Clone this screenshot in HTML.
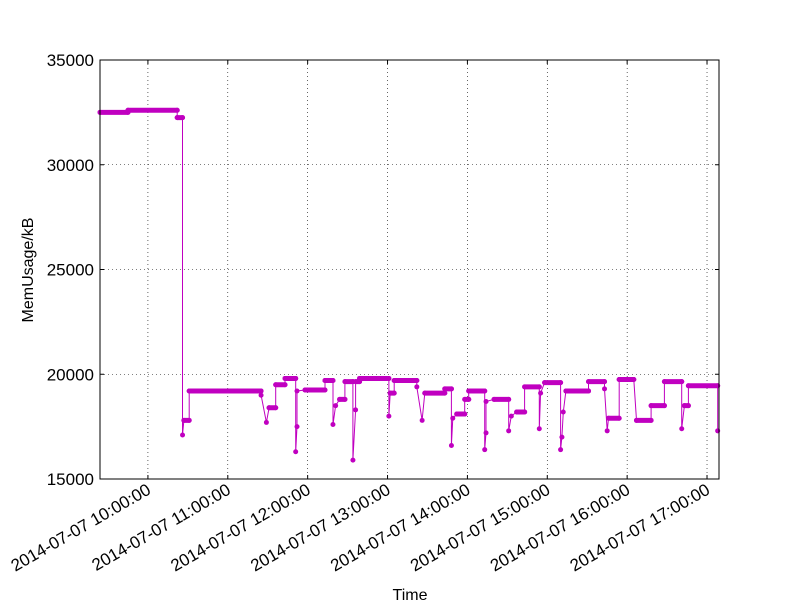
<!DOCTYPE html>
<html><head><meta charset="utf-8"><style>
body{margin:0;background:#fff;}
svg text{font-family:"Liberation Sans",sans-serif;fill:#000;}
</style></head><body>
<svg id="chart" width="800" height="600" viewBox="0 0 800 600" xmlns="http://www.w3.org/2000/svg">
<rect width="800" height="600" fill="#fff"/>
<g id="grid"></g>
<g id="series"></g>
<rect x="100" y="60" width="619" height="419" fill="none" stroke="#000" stroke-width="1"/>
<g id="axes"></g>
<text x="410" y="600" font-size="16" text-anchor="middle">Time</text>
<text transform="translate(33,270) rotate(-90)" font-size="16" text-anchor="middle">MemUsage/kB</text>
</svg>
<script>
const times=["9:24","9:45","9:45","10:22","10:22","10:26","10:26","10:27","10:31","10:31","11:25","11:25","11:29","11:31","11:36","11:36","11:43","11:43","11:51","11:51","11:52","11:52","11:58","12:13","12:13","12:19","12:19","12:21","12:24","12:28","12:28","12:34","12:34","12:36","12:36","12:39","12:39","13:01","13:01","13:02","13:05","13:05","13:22","13:22","13:26","13:28","13:43","13:43","13:48","13:48","13:49","13:52","13:58","13:58","14:01","14:01","14:13","14:13","14:14","14:14","14:20","14:31","14:31","14:33","14:37","14:43","14:43","14:54","14:54","14:55","14:58","15:10","15:10","15:11","15:12","15:14","15:31","15:31","15:43","15:43","15:45","15:46","15:54","15:54","16:05","16:07","16:18","16:18","16:28","16:28","16:41","16:41","16:43","16:46","16:46","17:08","17:08"];
const values=[32500,32500,32600,32600,32250,32250,17100,17800,17800,19200,19200,19000,17700,18400,18400,19500,19500,19800,19800,16300,17500,19200,19250,19250,19700,19700,17600,18500,18800,18800,19650,19650,15900,18300,19650,19650,19800,19800,18000,19100,19100,19700,19700,19400,17800,19100,19100,19300,19300,16600,17900,18100,18100,18800,18800,19200,19200,16400,17200,18700,18800,18800,17300,18000,18200,18200,19400,19400,17400,19100,19600,19600,16400,17000,18200,19200,19200,19650,19650,19300,17300,17900,17900,19750,19750,17800,17800,18500,18500,19650,19650,17400,18500,18500,19450,19450,17300];
const yTicks=[15000,20000,25000,30000,35000];
const xTicks=["10:00","11:00","12:00","13:00","14:00","15:00","16:00","17:00"];
const datePrefix="2014-07-07 ";
const NS="http://www.w3.org/2000/svg";
const X0=100,X1=719,Y0=479,Y1=60;
const tMin=-36,tMax=429;
function mins(s){const p=s.split(":");return (+p[0]-10)*60+(+p[1]);}
function xs(s){return X0+(mins(s)-tMin)/(tMax-tMin)*(X1-X0);}
function ys(v){return Y0-(v-15000)/20000*(Y0-Y1);}
function mk(tag,attrs,parent){const e=document.createElementNS(NS,tag);for(const k in attrs)e.setAttribute(k,attrs[k]);parent.appendChild(e);return e;}
const grid=document.getElementById('grid'),axes=document.getElementById('axes'),ser=document.getElementById('series');
yTicks.forEach(v=>{const y=ys(v);
 const g=mk('line',{x1:X0,x2:X1,y1:y,y2:y,stroke:'#000','stroke-width':0.6,'stroke-dasharray':'1,3'},grid);
 
 
 mk('line',{x1:X0,x2:X0+4,y1:y,y2:y,stroke:'#000'},axes);
 mk('line',{x1:X1-4,x2:X1,y1:y,y2:y,stroke:'#000'},axes);
 const t=mk('text',{x:X0-6,y:y+6,'font-size':17,'text-anchor':'end'},axes);t.textContent=v;
 
 
});
xTicks.forEach(s=>{const x=xs(s);
 const g=mk('line',{x1:x,x2:x,y1:Y1,y2:Y0,stroke:'#000','stroke-width':0.6,'stroke-dasharray':'1,3'},grid);
 
 
 mk('line',{x1:x,x2:x,y1:Y0,y2:Y0-4,stroke:'#000'},axes);
 mk('line',{x1:x,x2:x,y1:Y1,y2:Y1+4,stroke:'#000'},axes);
 const t=mk('text',{x:0,y:0,'font-size':17,'text-anchor':'end',transform:`translate(${x+4},${Y0+14}) rotate(-30)`},axes);
 t.textContent=datePrefix+s+":00";
 
 
});
const pts=times.map((t,i)=>xs(t).toFixed(1)+','+ys(values[i]).toFixed(1)).join(' ');
const pl=mk('polyline',{points:pts,fill:'none',stroke:'#c000c0','stroke-width':1},ser);


for(let i=0;i<times.length;i++){
 if(i<times.length-1&&values[i]===values[i+1]){
  const s=mk('line',{x1:xs(times[i]),x2:xs(times[i+1]),y1:ys(values[i]),y2:ys(values[i]),stroke:'#c000c0','stroke-width':5,'stroke-linecap':'round'},ser);
  
  
 }
 const c=mk('circle',{cx:xs(times[i]),cy:ys(values[i]),r:2.5,fill:'#c000c0'},ser);
 
 
}
</script>
</body></html>
